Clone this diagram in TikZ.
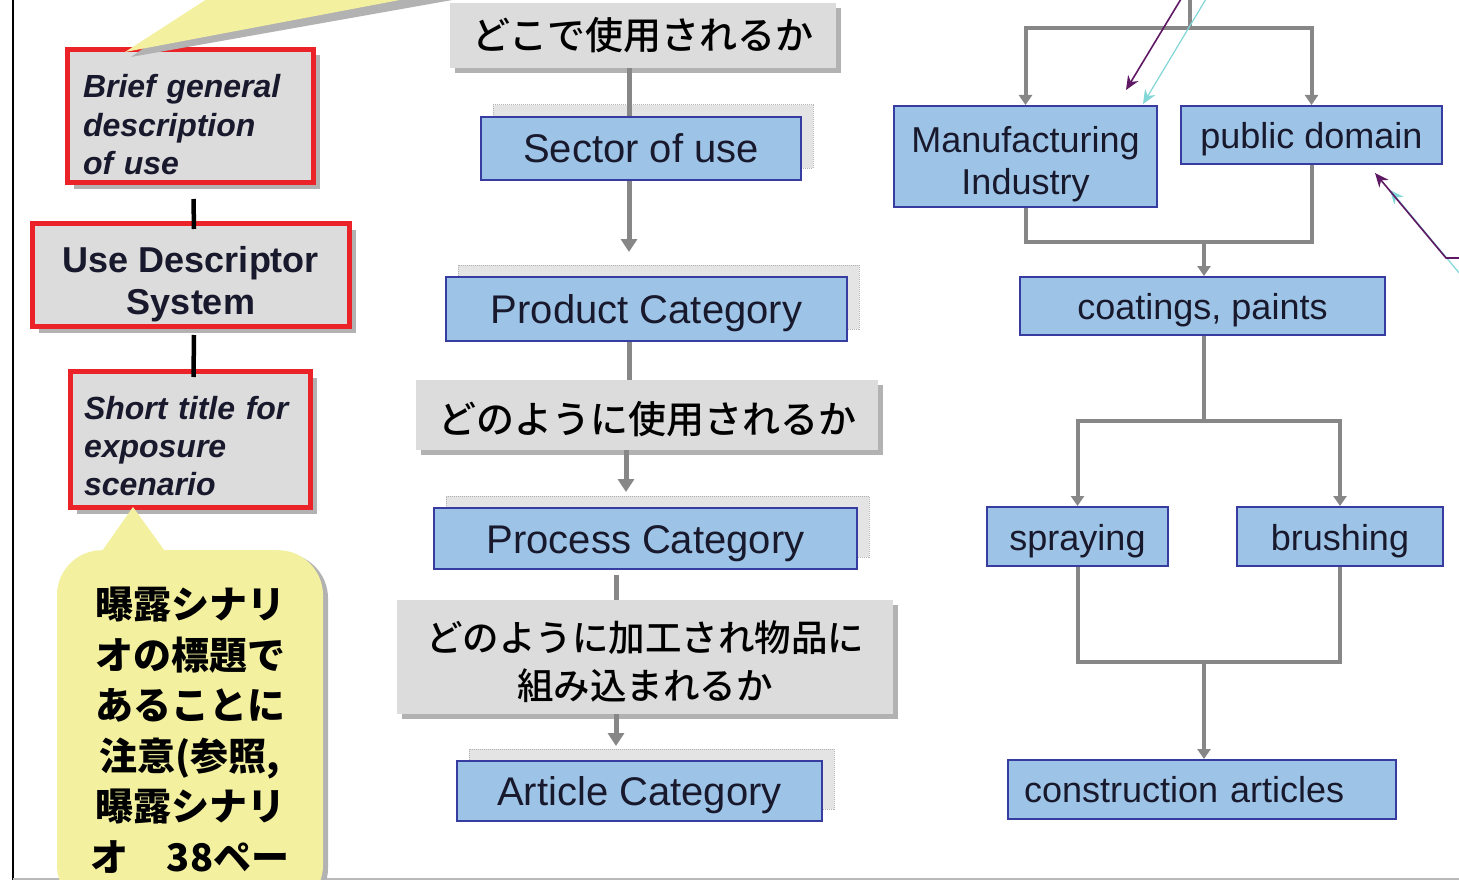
\documentclass[tikz,border=0pt]{standalone}
\usepackage{fontspec}
\setmainfont{Liberation Sans}
\newfontfamily\jpfont{Noto Sans CJK JP}
\newfontfamily\jpmedium{Noto Sans CJK JP Medium}
\usetikzlibrary{calc}
\usetikzlibrary{arrows.meta}
\usetikzlibrary{shadows}
\definecolor{BoxBlue}{RGB}{157,195,230}
\definecolor{BoxEdge}{RGB}{55,60,160}
\definecolor{FlowGray}{RGB}{135,135,135}
\definecolor{LabelGray}{RGB}{220,220,220}
\definecolor{ShadowGray}{RGB}{178,178,178}
\definecolor{GhostGray}{RGB}{228,228,228}
\definecolor{FrameRed}{RGB}{235,35,40}
\definecolor{NoteYellow}{RGB}{243,240,160}
\definecolor{NotePurple}{RGB}{95,25,100}
\definecolor{NoteCyan}{RGB}{130,215,215}
\definecolor{InkDark}{RGB}{25,25,45}
\tikzset{Blue Box/.style = {draw = BoxEdge, line width = 2pt, fill = BoxBlue, text = InkDark,
    inner sep = 0pt, align = center}}
\tikzset{Ghost Box/.style = {drop shadow = {shadow xshift = 12pt, shadow yshift = 12pt,
    fill = GhostGray, draw = gray!60, densely dotted, line width = 1pt, opacity = 1}}}
\tikzset{One Line/.style = {text height = #1, text depth = 0pt}}
\tikzset{Mid Box/.style = {Blue Box, Ghost Box, One Line = 29pt, font = \fontsize{40}{46}\selectfont}}
\tikzset{Side Box/.style = {Blue Box, font = \fontsize{36}{42}\selectfont}}
\tikzset{Gray Label/.style = {fill = LabelGray, inner sep = 0pt, align = center,
    font = \jpmedium\fontsize{38}{46}\selectfont,
    drop shadow = {shadow xshift = 5pt, shadow yshift = -5pt, fill = ShadowGray, opacity = 1}}}
\tikzset{Red Frame/.style = {draw = FrameRed, line width = 5pt, fill = LabelGray, text = InkDark,
    inner sep = 0pt, drop shadow = {shadow xshift = 6pt, shadow yshift = -6pt, fill = ShadowGray,
    opacity = 1}}}
\tikzset{Note Box/.style = {fill = NoteYellow, rounded corners = 45pt, inner xsep = 0pt,
    align = center, font = \jpfont\bfseries\fontsize{38}{50.5}\selectfont,
    drop shadow = {shadow xshift = 5pt, shadow yshift = -3pt, fill = ShadowGray, opacity = 1}}}
\tikzset{Flow Line/.style = {draw = FlowGray, line width = 5pt}}
\tikzset{Flow Arrow/.style = {Flow Line, -{Triangle[length = 13pt, width = 16pt]}}}
\tikzset{Fork Line/.style = {draw = FlowGray, line width = 4pt}}
\tikzset{Fork Arrow/.style = {Fork Line, -{Triangle[length = 10pt, width = 13pt]}}}
\tikzset{Link Line/.style = {draw = black, line width = 4.5pt}}
\tikzset{Pointer Purple/.style = {draw = NotePurple, line width = 1.6pt,
    -{Stealth[length = 14pt, width = 12pt]}}}
\tikzset{Pointer Cyan/.style = {draw = NoteCyan, line width = 1.2pt,
    -{Stealth[length = 14pt, width = 12pt]}}}
\begin{document}
\begin{tikzpicture}[x = 1pt, y = -1pt]
  \useasboundingbox (0, 0) rectangle (1459, 880);
  \fill[white] (0, 0) rectangle (1459, 880);

  \draw[black, line width = 2.5pt] (13, 0) -- (13, 880);
  \draw[gray!55, line width = 2pt] (13, 879) -- (1459, 879);

  \node[Red Frame, minimum width = 246pt, minimum height = 133pt, inner xsep = 15.5pt,
  text width = 215pt, align = left, font = \bfseries\itshape\fontsize{32}{38.5}\selectfont]
  (brief) at (190.5, 116) {\rule{0pt}{41pt}Brief general\\description\\of use};
  \node[Red Frame, minimum width = 317pt, minimum height = 103pt, align = center,
  font = \bfseries\fontsize{36}{42}\selectfont] (usedesc) at (191, 275)
  {\rule{0pt}{45pt}Use Descriptor\\System};
  \node[Red Frame, minimum width = 240pt, minimum height = 136pt, inner xsep = 13.5pt,
  text width = 213pt, align = left, font = \bfseries\itshape\fontsize{32}{38}\selectfont]
  (short) at (190.5, 439.5) {\rule{0pt}{37pt}Short title for\\exposure\\scenario};

  \draw[Link Line] ([xshift = 3pt, yshift = -14pt]brief.south) --
  ([xshift = 3pt, yshift = -8pt]usedesc.north);
  \draw[Link Line] ([xshift = 3pt, yshift = -6pt]usedesc.south) --
  ([xshift = 3pt, yshift = -8pt]short.north);

  \coordinate (TP) at (125, 52);
  \fill[ShadowGray] ($(TP) + (6, 5)$) -- (215, -1) -- (458, -1) -- cycle;
  \fill[NoteYellow] (TP) -- (207, -1) -- (405, -1) -- cycle;

  \node[Note Box, anchor = north, minimum width = 266pt, inner ysep = 37pt] (note) at (190, 550)
  {曝露シナリ\\オの標題で\\あることに\\注意(参照,\\曝露シナリ\\オ　38ペー};
  \coordinate (NP) at (133, 507);
  \fill[NoteYellow] ([xshift = -90pt, yshift = -4pt]note.north) -- (NP) --
  ([xshift = -23pt, yshift = -4pt]note.north) -- cycle;

  \node[Gray Label, minimum width = 386pt, minimum height = 65pt] (where) at (643, 35.5)
  {どこで使用されるか};
  \node[Mid Box, minimum width = 320pt, minimum height = 63pt] (sector) at (641, 148.5)
  {Sector of use};
  \node[Mid Box, minimum width = 401pt, minimum height = 64pt] (product) at (646.5, 309)
  {Product Category};
  \node[Gray Label, minimum width = 462pt, minimum height = 70pt] (howuse) at (647, 415)
  {\rule{0pt}{40pt}どのように使用されるか};
  \node[Mid Box, minimum width = 423pt, minimum height = 61pt] (process) at (645.5, 538.5)
  {Process Category};
  \node[Gray Label, minimum width = 496pt, minimum height = 114pt,
  font = \jpmedium\fontsize{36.5}{48}\selectfont] (howproc) at (645, 657)
  {\rule{0pt}{41pt}どのように加工され物品に\\組み込まれるか};
  \node[Mid Box, minimum width = 365pt, minimum height = 60pt] (article) at (639.5, 791)
  {Article Category};

  \coordinate (S1) at (629, 0);
  \coordinate (S2) at (626, 0);
  \coordinate (S3) at (616, 0);
  \draw[Flow Line] (where.south -| S1) -- (sector.north -| S1);
  \draw[Flow Arrow, shorten > = 24pt] (sector.south -| S1) -- (product.north -| S1);
  \draw[Flow Line] (product.south -| S1) -- (howuse.north -| S1);
  \draw[Flow Arrow, shorten > = 15pt] (howuse.south -| S2) -- (process.north -| S2);
  \draw[Flow Line, shorten < = 5pt] (process.south -| S3) -- (howproc.north -| S3);
  \draw[Flow Arrow, shorten > = 14pt] (howproc.south -| S3) -- (article.north -| S3);

  \node[Side Box, minimum width = 263pt, minimum height = 101pt] (manuf) at (1025.5, 156.5)
  {\rule{0pt}{42pt}Manufacturing\\Industry};
  \node[Side Box, One Line = 27pt, minimum width = 261pt, minimum height = 58pt] (public)
  at (1311.5, 135) {public domain};
  \node[Side Box, One Line = 27pt, minimum width = 365pt, minimum height = 58pt] (coat)
  at (1202.5, 306) {coatings, paints};
  \node[Side Box, One Line = 27pt, minimum width = 181pt, minimum height = 59pt] (spray)
  at (1077.5, 536.5) {spraying};
  \node[Side Box, One Line = 27pt, minimum width = 206pt, minimum height = 59pt] (brush)
  at (1340, 536.5) {brushing};
  \node[Side Box, One Line = 26pt, minimum height = 59pt, inner xsep = 16pt, text width = 356pt,
  align = left] (constr) at (1202, 789.5) {construction articles};

  \coordinate (F0) at (1190, 0);
  \coordinate (F1) at (1190, 28);
  \coordinate (J1) at (1204, 242);
  \coordinate (F2) at (1204, 421);
  \coordinate (J2) at (1204, 662);
  \draw[Fork Line] (F0) -- (F1);
  \draw[Fork Arrow] (F1) -| (manuf.north);
  \draw[Fork Arrow] (F1) -| (public.north);
  \draw[Fork Line] (manuf.south) |- (J1) -| (public.south);
  \draw[Fork Arrow] (J1) -- (coat.north -| J1);
  \draw[Fork Line] (coat.south -| F2) -- (F2);
  \draw[Fork Arrow] (F2) -| (spray.north);
  \draw[Fork Arrow] (F2) -| (brush.north);
  \draw[Fork Line] (spray.south) |- (J2) -| (brush.south);
  \draw[Fork Arrow] (J2) -- (constr.north -| J2);

  \coordinate (PA1) at (1181, -1);
  \coordinate (PA2) at (1126, 90);
  \coordinate (CA1) at (1206, -1);
  \coordinate (CA2) at (1143, 104);
  \coordinate (PB0) at (1460, 258);
  \coordinate (PB1) at (1446, 258);
  \coordinate (PB2) at (1375, 173);
  \coordinate (CB1) at (1460, 274);
  \coordinate (CB2) at (1390, 190);
  \draw[Pointer Cyan] (CA1) -- (CA2);
  \draw[Pointer Cyan] (CB1) -- (CB2);
  \draw[Pointer Purple] (PA1) -- (PA2);
  \draw[Pointer Purple] (PB0) -- (PB1) -- (PB2);
\end{tikzpicture}
\end{document}
